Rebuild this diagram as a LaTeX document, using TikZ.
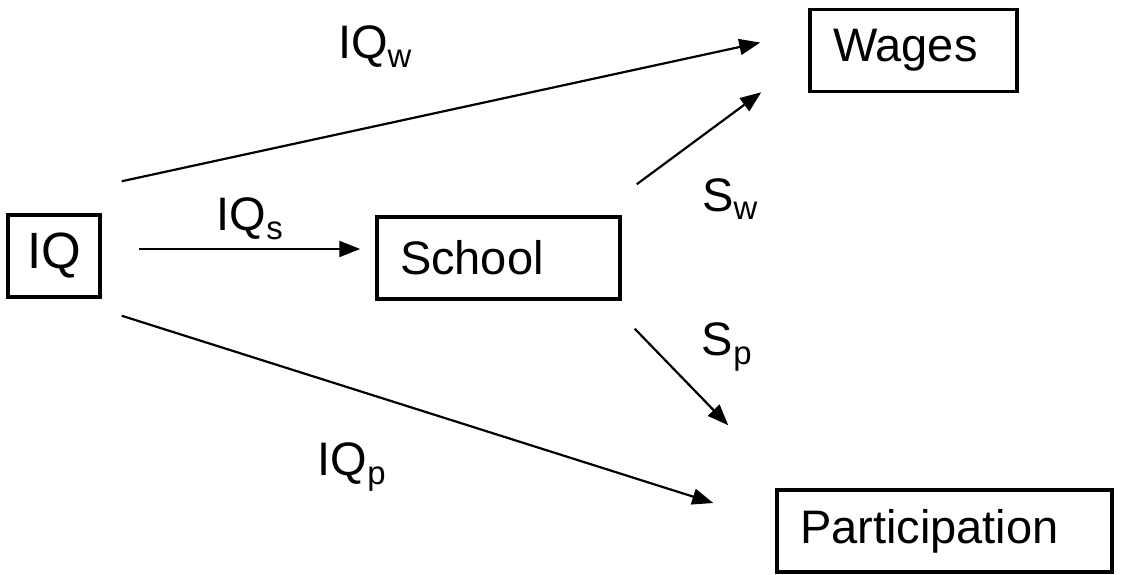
\documentclass[tikz,border=0pt]{standalone}
\usepackage{fontspec}
\setmainfont{Liberation Sans}
\usetikzlibrary{arrows.meta}
\newcommand{\diagfont}{\fontsize{47}{56}\selectfont}
\tikzset{
  box/.style={draw=black, line width=3.5pt, minimum height=82pt, inner xsep=23pt, inner ysep=0pt, align=left, font=\diagfont},
  lbl/.style={font=\diagfont, inner sep=0pt},
  flow/.style={-{Triangle[length=21pt,width=16pt]}, line width=2.2pt, draw=black},
}
\begin{document}
\begin{tikzpicture}[x=1pt,y=-1pt]
  \useasboundingbox (0,0) rectangle (1125,574);
  % boxes
  \node[box,align=center,minimum width=92pt,inner xsep=0pt,font=\fontsize{51}{60}\selectfont](iq) at (54,256){IQ};
  \node[box,text width=197pt](school) at (498.5,258){School};
  \node[box,text width=161pt](wages) at (913.5,50.5){Wages};
  \node[box,text width=289pt](part) at (944.5,531){Participation};
  % arrow ends
  \coordinate (iqw0) at ([shift={(20,-32)}]iq.north east);
  \coordinate (iqw1) at ([shift={(-48,-8)}]wages.west);
  \coordinate (iqs0) at ([shift={(37,-7)}]iq.east);
  \coordinate (iqs1) at ([shift={(-15,-9)}]school.west);
  \coordinate (iqp0) at ([shift={(20,17)}]iq.south east);
  \coordinate (iqp1) at ([shift={(-62,-28)}]part.west);
  \coordinate (sw0) at ([shift={(15,-31)}]school.north east);
  \coordinate (sw1) at ([shift={(-47,-1)}]wages.south west);
  \coordinate (sp0) at ([shift={(13,28)}]school.south east);
  \coordinate (sp1) at ([shift={(-47,-63)}]part.north west);
  % arrows
  \draw[flow](iqw0)--(iqw1);
  \draw[flow](iqs0)--(iqs1);
  \draw[flow](iqp0)--(iqp1);
  \draw[flow](sw0)--(sw1);
  \draw[flow](sp0)--(sp1);
  % labels
  \node[lbl](lw) at (375,47){IQ\textsubscript{w}};
  \node[lbl](ls) at (250,219){IQ\textsubscript{s}};
  \node[lbl](lp) at (352,467){IQ\textsubscript{p}};
  \node[lbl](lsw) at (730,199){S\textsubscript{w}};
  \node[lbl](lsp) at (727,347){S\textsubscript{p}};
\end{tikzpicture}
\end{document}
